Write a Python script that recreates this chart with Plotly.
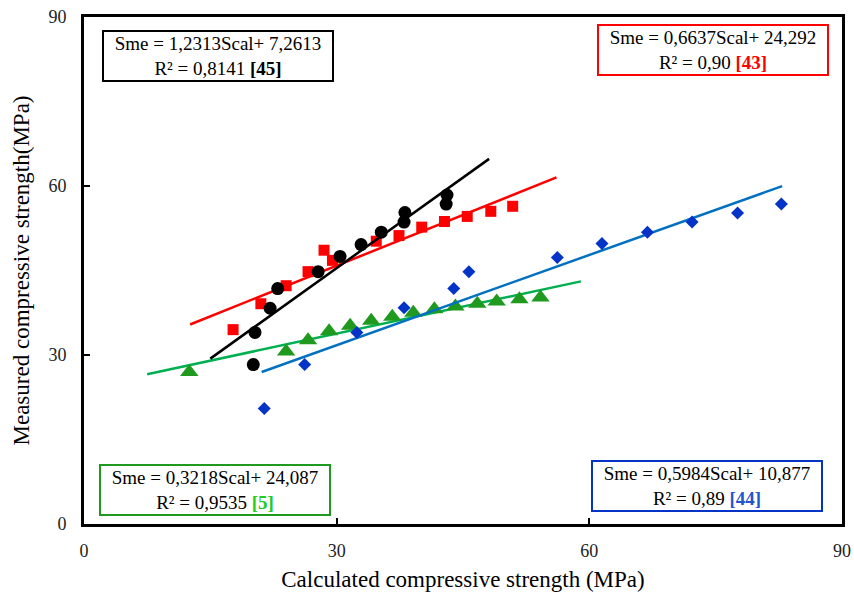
import numpy as np
import plotly.graph_objects as go

# Measured vs calculated compressive strength (MPa), four data sets
ref45_x = [20.1, 20.3, 22.1, 23.0, 27.8, 30.4, 32.9, 35.3, 38.0, 38.1, 43.0, 43.1]
ref45_y = [28.3, 34.0, 38.3, 41.8, 44.8, 47.5, 49.6, 51.8, 53.6, 55.3, 56.8, 58.4]

ref43_x = [17.7, 21.0, 24.0, 26.6, 28.5, 29.5, 34.7, 37.4, 40.1, 42.8, 45.5, 48.3, 50.9]
ref43_y = [34.5, 39.1, 42.3, 44.8, 48.6, 46.8, 50.2, 51.2, 52.7, 53.7, 54.6, 55.5, 56.4]

ref44_x = [21.4, 26.2, 32.4, 38.0, 43.9, 45.7, 56.2, 61.5, 66.9, 72.2, 77.6, 82.8]
ref44_y = [20.5, 28.3, 34.0, 38.4, 41.8, 44.8, 47.3, 49.8, 51.8, 53.6, 55.2, 56.8]

ref5_x = [12.5, 24.0, 26.6, 29.1, 31.6, 34.1, 36.6, 39.1, 41.6, 44.1, 46.7, 49.0, 51.7, 54.2]
ref5_y = [27.0, 30.6, 32.6, 34.2, 35.2, 36.1, 36.8, 37.5, 38.1, 38.6, 39.1, 39.5, 39.9, 40.2]

# x extent of each trend line
trend45_x = [15.0, 48.1]
trend43_x = [12.6, 56.1]
trend44_x = [21.1, 82.9]
trend5_x = [7.5, 59.0]

# equation labels
eq45 = ["Sme = 1,2313Scal+ 7,2613", "R² = 0,8141", "[45]"]
eq43 = ["Sme = 0,6637Scal+ 24,292", "R² = 0,90", "[43]"]
eq5 = ["Sme = 0,3218Scal+ 24,087", "R² = 0,9535", "[5]"]
eq44 = ["Sme = 0,5984Scal+ 10,877", "R² = 0,89", "[44]"]

FONT = "Liberation Serif, Times New Roman, serif"

fig = go.Figure()


def add_set(xs, ys, txs, symbol, size, mcolor, lcolor):
    k, b = np.polyfit(xs, ys, 1)
    tx = np.array(txs)
    fig.add_trace(go.Scatter(x=tx, y=k * tx + b, mode="lines",
                             line=dict(color=lcolor, width=2.5),
                             showlegend=False, hoverinfo="skip"))
    fig.add_trace(go.Scatter(x=xs, y=ys, mode="markers",
                             marker=dict(symbol=symbol, size=size, color=mcolor,
                                         line=dict(width=0)),
                             showlegend=False))


add_set(ref5_x, ref5_y, trend5_x, "triangle-up", 16, "#1f9a1f", "#00b050")
add_set(ref44_x, ref44_y, trend44_x, "diamond", 10, "#0433c8", "#0070c0")
add_set(ref43_x, ref43_y, trend43_x, "square", 11, "#ff0000", "#ff0000")
add_set(ref45_x, ref45_y, trend45_x, "circle", 13, "#000000", "#000000")


def eq_box(eq, x, y, border, refcolor):
    text = (f"{eq[0]}<br>{eq[1]} "
            f"<span style='color:{refcolor}'><b>{eq[2]}</b></span>")
    fig.add_annotation(x=x, y=y, xref="x", yref="y", text=text, showarrow=False,
                       xanchor="center", yanchor="middle", align="center",
                       width=226, height=46,
                       font=dict(family=FONT, size=19, color="#000000"),
                       bordercolor=border, borderwidth=2, borderpad=1,
                       bgcolor="white")


eq_box(eq45, 15.9, 83.1, "#000000", "#000000")
eq_box(eq43, 74.7, 84.2, "#ff0000", "#ff0000")
eq_box(eq5, 15.6, 6.0, "#1f9a1f", "#22cc22")
eq_box(eq44, 74.0, 6.8, "#0433c8", "#2255cc")

axis_common = dict(range=[0, 90], dtick=30, tick0=0, showgrid=False, zeroline=False,
                   showline=True, mirror=True, linecolor="black", linewidth=3,
                   ticks="inside", ticklen=6, tickwidth=2, tickcolor="black",
                   automargin=False,
                   tickfont=dict(family=FONT, size=18, color="#222222"))

fig.update_xaxes(**axis_common, ticklabelstandoff=8,
                 title=dict(text="Calculated compressive strength (MPa)",
                            font=dict(family=FONT, size=23, color="#000000"),
                            standoff=16))
fig.update_yaxes(**axis_common, ticklabelstandoff=11,
                 title=dict(text="Measured compressive strength(MPa)",
                            font=dict(family=FONT, size=23, color="#000000"),
                            standoff=13))

fig.update_layout(width=854, height=592,
                  margin=dict(l=84, r=12, t=17, b=68),
                  paper_bgcolor="white", plot_bgcolor="white")

fig.write_html("out.html")
